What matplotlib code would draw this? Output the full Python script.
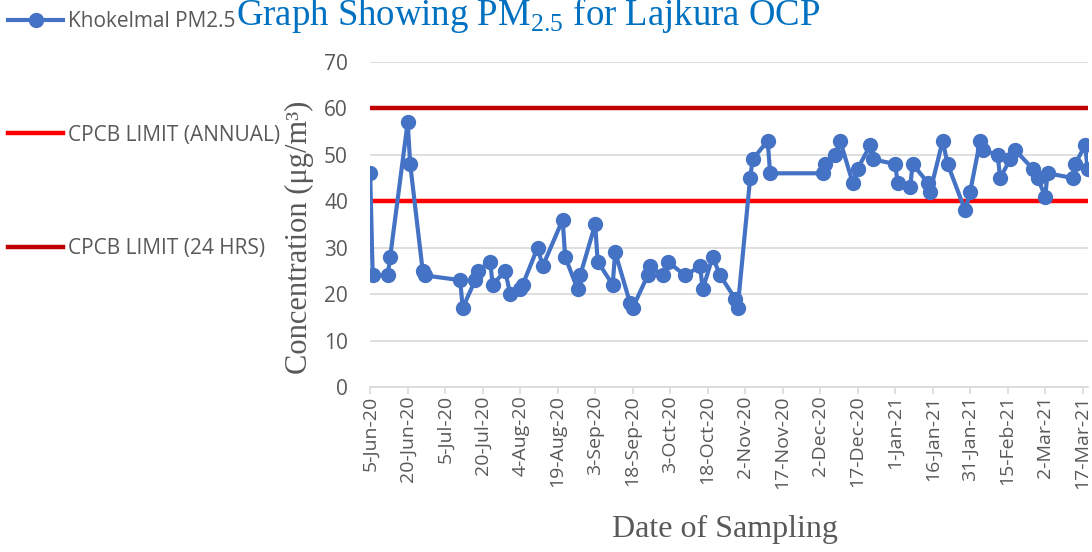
import numpy as np
import pandas as pd
import matplotlib
matplotlib.use("Agg")
import matplotlib.pyplot as plt
from matplotlib.lines import Line2D

# sampling dates and PM2.5 readings
dates = ["2020-06-05", "2020-06-06", "2020-06-12", "2020-06-13", "2020-06-20", "2020-06-21",
         "2020-06-26", "2020-06-27", "2020-07-11", "2020-07-12", "2020-07-17", "2020-07-18",
         "2020-07-23", "2020-07-24", "2020-07-29", "2020-07-31", "2020-08-04", "2020-08-05",
         "2020-08-11", "2020-08-13", "2020-08-21", "2020-08-22", "2020-08-27", "2020-08-28",
         "2020-09-03", "2020-09-04", "2020-09-10", "2020-09-11", "2020-09-17", "2020-09-18",
         "2020-09-24", "2020-09-25", "2020-09-30", "2020-10-02", "2020-10-09", "2020-10-15",
         "2020-10-16", "2020-10-20", "2020-10-23", "2020-10-29", "2020-10-30", "2020-11-04",
         "2020-11-05", "2020-11-11", "2020-11-12", "2020-12-03", "2020-12-04", "2020-12-08",
         "2020-12-10", "2020-12-15", "2020-12-17", "2020-12-22", "2020-12-23", "2021-01-01",
         "2021-01-02", "2021-01-07", "2021-01-08", "2021-01-14", "2021-01-15", "2021-01-20",
         "2021-01-22", "2021-01-29", "2021-01-31", "2021-02-04", "2021-02-05", "2021-02-11",
         "2021-02-12", "2021-02-16", "2021-02-18", "2021-02-25", "2021-02-27", "2021-03-02",
         "2021-03-03", "2021-03-13", "2021-03-14", "2021-03-18", "2021-03-19"]
pm25 = [46, 24, 24, 28, 57, 48,
        25, 24, 23, 17, 23, 25,
        27, 22, 25, 20, 21, 22,
        30, 26, 36, 28, 21, 24,
        35, 27, 22, 29, 18, 17,
        24, 26, 24, 27, 24, 26,
        21, 28, 24, 19, 17, 45,
        49, 53, 46, 46, 48, 50,
        53, 44, 47, 52, 49, 48,
        44, 43, 48, 44, 42, 53,
        48, 38, 42, 53, 51, 50,
        45, 49, 51, 47, 45, 41,
        46, 45, 48, 52, 47]
annual_limit = 40
daily_limit = 60

x = pd.to_datetime(dates)
tick_dates = pd.date_range("2020-06-05", "2021-03-17", freq="15D")
tick_labels = [f"{d.day}-{d.strftime('%b-%y')}" for d in tick_dates]

blue = "#4472C4"
grey = "#595959"

plt.rcParams["font.family"] = ["Open Sans", "DejaVu Sans"]
plt.rcParams["mathtext.fontset"] = "custom"
plt.rcParams["mathtext.rm"] = "Liberation Serif"

fig = plt.figure(figsize=(10.92, 5.52), dpi=100)
ax = fig.add_axes([0.339, 0.299, 0.657, 0.589])

ax.plot(x, pm25, color=blue, lw=3, marker="o", ms=10, label="Khokelmal PM2.5", zorder=3)
ax.axhline(annual_limit, color="#FF0000", lw=3.2, solid_capstyle="round", zorder=2)
ax.axhline(daily_limit, color="#C00000", lw=3.2, solid_capstyle="round", zorder=2)

ax.set_ylim(0, 70)
ax.set_yticks(range(0, 71, 10))
ax.set_xlim(x[0], x[-1])
ax.set_xticks(tick_dates)
ax.set_xticklabels(tick_labels, rotation=90)
ax.grid(axis="y", color="#D9D9D9", lw=1.2)
ax.set_axisbelow(True)
for s in ["top", "right", "left"]:
    ax.spines[s].set_visible(False)
ax.spines["bottom"].set_color("#D9D9D9")
ax.spines["bottom"].set_linewidth(1.2)
ax.tick_params(axis="y", length=0, labelsize=15, labelcolor=grey, pad=16)
ax.tick_params(axis="x", length=5, color="#D9D9D9", width=1.2, labelsize=14, labelcolor=grey, pad=1)

ax.set_ylabel("Concentration (μg/m³)", family="Liberation Serif", fontsize=22, color=grey)
ax.yaxis.set_label_coords(-0.079, 0.46)
ax.set_xlabel("Date of Sampling", family="Liberation Serif", fontsize=23, color=grey)
ax.xaxis.set_label_coords(0.495, -0.394)

# title sits partly above the top edge, as in the original
fig.text(0.484, 0.955, r"Graph Showing PM$_\mathrm{2.5}$ for Lajkura OCP", family="Liberation Serif",
         fontsize=26.5, color="#0070C0", ha="center", va="baseline")

handles = [Line2D([], [], color=blue, lw=3, marker="o", ms=10),
           Line2D([], [], color="#FF0000", lw=3.2),
           Line2D([], [], color="#C00000", lw=3.2)]
labels = ["Khokelmal PM2.5", "CPCB LIMIT (ANNUAL)", "CPCB LIMIT (24 HRS)"]
fig.legend(handles, labels, loc="upper left", bbox_to_anchor=(0.0, 0.9946), frameon=False,
           fontsize=15, labelcolor=grey, handlelength=2.64, handletextpad=0.24,
           labelspacing=4.43, borderaxespad=0.2, borderpad=0.2)

fig.savefig("out.png", dpi=100)
